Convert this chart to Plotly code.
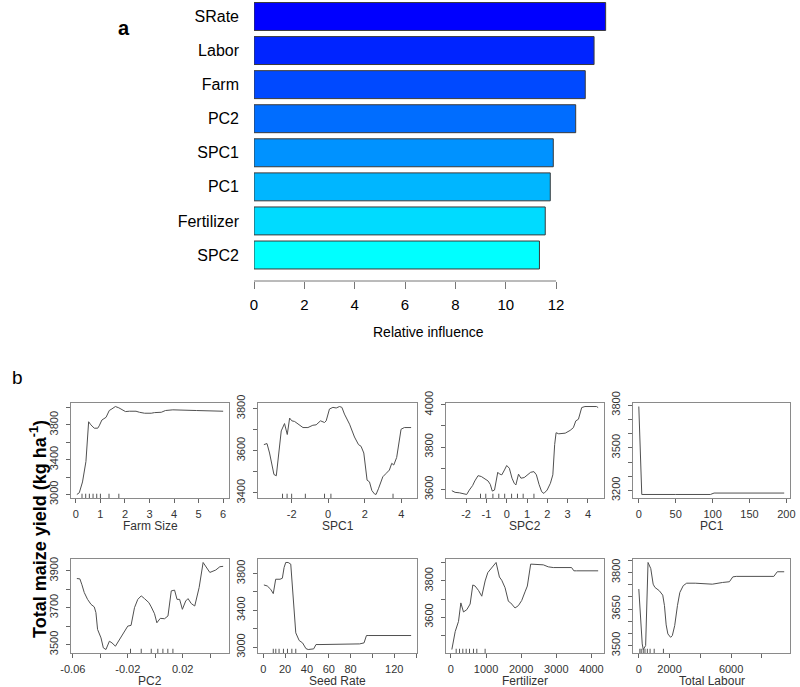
import plotly.graph_objects as go

FONT = "Liberation Sans, Arial, sans-serif"
W, H = 800, 687

# (a) relative influence of predictors
rel_vars = ["SRate", "Labor", "Farm", "PC2", "SPC1", "PC1", "Fertilizer", "SPC2"]
rel_vals = [13.97, 13.51, 13.16, 12.78, 11.89, 11.77, 11.57, 11.34]
rel_colors = ["#0000FF", "#0024FF", "#0049FF", "#006DFF", "#0092FF", "#00B6FF", "#00DBFF", "#00FFFF"]
rel_ticks = [0, 2, 4, 6, 8, 10, 12]

# (b) partial dependence curves
farm_x = [0.04, 0.14, 0.27, 0.41, 0.52, 0.61, 0.75, 0.89, 0.95, 1.06, 1.23, 1.36, 1.47, 1.61,
          1.75, 1.91, 2.02, 2.18, 2.45, 2.59, 2.80, 3.07, 3.20, 3.48, 3.65, 3.95, 4.50, 4.91, 6.00]
farm_y = [3000, 3020, 3144, 3378, 3835, 3800, 3761, 3761, 3788, 3855, 3886, 3964, 3983, 4010,
          3995, 3964, 3952, 3956, 3956, 3944, 3933, 3933, 3940, 3944, 3964, 3972, 3972, 3964, 3956]
farm_rug = [0.25, 0.4, 0.55, 0.7, 0.85, 1.0, 1.35, 1.75]

spc1_x = [-3.52, -3.35, -3.21, -3.06, -2.97, -2.84, -2.75, -2.57, -2.39, -2.24, -2.11, -1.99, -1.84,
          -1.66, -1.38, -1.11, -0.84, -0.66, -0.42, -0.20, -0.11, 0.07, 0.26, 0.44, 0.62, 0.75, 0.89,
          1.17, 1.44, 1.66, 1.80, 1.95, 2.02, 2.13, 2.26, 2.39, 2.53, 2.62, 2.75, 2.99, 3.17, 3.35,
          3.48, 3.59, 3.75, 3.99, 4.17, 4.54]
spc1_y = [3629, 3634, 3589, 3524, 3487, 3481, 3548, 3694, 3729, 3677, 3755, 3742, 3739,
          3726, 3710, 3710, 3721, 3723, 3742, 3734, 3742, 3798, 3806, 3803, 3810, 3806, 3774,
          3726, 3665, 3629, 3621, 3589, 3548, 3460, 3452, 3411, 3395, 3392, 3419, 3476, 3492, 3508,
          3540, 3532, 3568, 3702, 3710, 3710]
spc1_rug = [-2.5, -2.25, -2.0, -1.25, -0.2, 0.15, 3.55]

spc2_x = [-2.70, -2.54, -2.33, -2.14, -1.97, -1.84, -1.68, -1.57, -1.41, -1.25, -1.08, -0.92, -0.81,
          -0.71, -0.60, -0.44, -0.36, -0.24, -0.11, 0.0, 0.13, 0.26, 0.37, 0.45, 0.58, 0.65, 0.70,
          0.86, 1.02, 1.18, 1.34, 1.46, 1.59, 1.72, 1.83, 1.99, 2.15, 2.27, 2.36, 2.43, 2.56, 2.88,
          3.12, 3.28, 3.40, 3.53, 3.69, 3.85, 4.42, 4.50]
spc2_y = [3594, 3586, 3584, 3578, 3576, 3597, 3618, 3640, 3665, 3661, 3648, 3640, 3624,
          3592, 3597, 3681, 3673, 3669, 3692, 3713, 3700, 3653, 3629, 3621, 3672, 3661, 3653,
          3656, 3669, 3681, 3684, 3669, 3624, 3589, 3581, 3597, 3629, 3669, 3812, 3868, 3863, 3866,
          3879, 3892, 3924, 3932, 3987, 3992, 3992, 3987]
spc2_rug = [-1.29, -1.03, -0.68, -0.39, -0.1, 0.24, 0.53, 0.81, 1.34]

pc1_x = [0, 4, 50, 97, 102, 150, 197]
pc1_y = [3790, 3172, 3172, 3172, 3182, 3182, 3182]
pc1_rug = []

pc2_x = [-0.0571, -0.0549, -0.0534, -0.0517, -0.0493, -0.0468, -0.0444, -0.0432, -0.0420, -0.0395,
         -0.0378, -0.0359, -0.0334, -0.0315, -0.0290, -0.0266, -0.0237, -0.0200, -0.0176, -0.0151,
         -0.0127, -0.0102, -0.0078, -0.0046, -0.0029, -0.0005, 0.0012, 0.0037, 0.0068, 0.0093,
         0.0117, 0.0141, 0.0159, 0.0178, 0.0198, 0.0222, 0.0239, 0.0263, 0.0288, 0.0320, 0.0349,
         0.0398, 0.0441, 0.0471, 0.0495]
pc2_y = [3858, 3856, 3824, 3782, 3745, 3718, 3704, 3673, 3582, 3536,
         3482, 3473, 3518, 3509, 3491, 3522, 3555, 3600, 3604, 3700,
         3745, 3764, 3749, 3727, 3704, 3667, 3618, 3642, 3640, 3655,
         3791, 3795, 3745, 3745, 3691, 3736, 3749, 3722, 3709, 3809, 3945,
         3891, 3904, 3922, 3924]
pc2_rug = [-0.018, -0.0102, -0.0029, 0.0019, 0.0056, 0.0092, 0.0129]

seed_x = [0.6, 3.7, 6.8, 9.2, 11.4, 15.4, 17.5, 19.1, 20.6, 22.8, 25.2, 26.8, 28.3, 29.8, 32.9,
          36.0, 39.1, 41.2, 46.2, 48.3, 52.9, 65.2, 80.6, 88.3, 92.3, 94.5, 96.0, 111.4, 135.4]
seed_y = [3676, 3665, 3629, 3582, 3738, 3738, 3749, 3865, 3920, 3920, 3902, 3647, 3356, 3156, 3073,
          3047, 2985, 2975, 2982, 3029, 3029, 3029, 3029, 3036, 3047, 3127, 3127, 3127, 3127]
seed_rug = [9.2, 11.5, 14.5, 18.5, 22.2, 26.2, 29.8]

fert_x = [28, 123, 217, 284, 359, 454, 548, 624, 690, 785, 879, 974, 1050, 1163, 1286, 1381, 1447,
          1541, 1636, 1702, 1825, 1920, 2014, 2109, 2175, 2270, 2345, 2629, 2771, 2913, 3433, 3499,
          3574, 4189]
fert_y = [3422, 3521, 3577, 3679, 3629, 3642, 3673, 3778, 3772, 3748, 3716, 3800, 3846, 3874, 3902,
          3822, 3804, 3763, 3688, 3679, 3651, 3664, 3692, 3740, 3772, 3893, 3893, 3889, 3878, 3874,
          3874, 3856, 3856, 3856]
fert_rug = [151, 246, 340, 435, 530, 643, 738, 974]

labour_x = [0, 111, 222, 289, 444, 600, 778, 933, 1044, 1333, 1555, 1667, 1778, 1889, 2067, 2178,
            2333, 2511, 2667, 2889, 3111, 3667, 4778, 5444, 5889, 6111, 6333, 8778, 9000, 9450]
labour_y = [3732, 3609, 3507, 3484, 3500, 3841, 3816, 3752, 3739, 3725, 3707, 3664, 3585, 3548,
            3534, 3541, 3582, 3664, 3718, 3746, 3756, 3756, 3752, 3759, 3762, 3782, 3784, 3784,
            3803, 3803]
labour_rug = [67, 156, 289, 400, 556, 733, 1000, 1600]

panels = [
    dict(title="Farm Size", x=farm_x, y=farm_y, rug=farm_rug,
         xt=[0, 1, 2, 3, 4, 5, 6], xl=["0", "1", "2", "3", "4", "5", "6"],
         yt=[3000, 3200, 3400, 3600, 3800, 4000], yl=["3000", "", "3400", "", "3800", ""]),
    dict(title="SPC1", x=spc1_x, y=spc1_y, rug=spc1_rug,
         xt=[-2, 0, 2, 4], xl=["-2", "0", "2", "4"],
         yt=[3400, 3500, 3600, 3700, 3800], yl=["3400", "", "3600", "", "3800"]),
    dict(title="SPC2", x=spc2_x, y=spc2_y, rug=spc2_rug,
         xt=[-2, -1, 0, 1, 2, 3, 4], xl=["-2", "-1", "0", "1", "2", "3", "4"],
         yt=[3600, 3700, 3800, 3900, 4000], yl=["3600", "", "3800", "", "4000"]),
    dict(title="PC1", x=pc1_x, y=pc1_y, rug=pc1_rug,
         xt=[0, 50, 100, 150, 200], xl=["0", "50", "100", "150", "200"],
         yt=[3200, 3300, 3400, 3500, 3600, 3700, 3800], yl=["3200", "", "", "3500", "", "", "3800"]),
    dict(title="PC2", x=pc2_x, y=pc2_y, rug=pc2_rug,
         xt=[-0.06, -0.04, -0.02, 0, 0.02, 0.04], xl=["-0.06", "", "-0.02", "", "0.02", ""],
         yt=[3500, 3600, 3700, 3800, 3900], yl=["3500", "", "3700", "", "3900"]),
    dict(title="Seed Rate", x=seed_x, y=seed_y, rug=seed_rug,
         xt=[0, 20, 40, 60, 80, 100, 120, 140], xl=["0", "20", "40", "60", "80", "", "120", ""],
         yt=[3000, 3200, 3400, 3600, 3800], yl=["3000", "", "3400", "", "3800"]),
    dict(title="Fertilizer", x=fert_x, y=fert_y, rug=fert_rug,
         xt=[0, 1000, 2000, 3000, 4000], xl=["0", "1000", "2000", "3000", "4000"],
         yt=[3400, 3500, 3600, 3700, 3800, 3900], yl=["3400", "", "3600", "", "3800", ""]),
    dict(title="Total Labour", x=labour_x, y=labour_y, rug=labour_rug,
         xt=[0, 2000, 4000, 6000, 8000], xl=["0", "2000", "", "6000", ""],
         yt=[3500, 3550, 3600, 3650, 3700, 3750, 3800, 3850],
         yl=["3500", "", "", "3650", "", "", "3800", ""]),
]

# panel boxes in pixels
COLS = [(71, 229), (258, 417), (446, 604), (633, 790)]
ROWS = [(403, 498), (559, 653)]


def px_x(p):
    return p / W


def px_y(p):
    return 1 - p / H


def padded(vals):
    lo, hi = min(vals), max(vals)
    ext = 0.04 * (hi - lo)
    return [lo - ext, hi + ext]


def label(text, x, y, size, color="black", angle=0):
    return dict(text=text, x=px_x(x), y=px_y(y), xref="paper", yref="paper", showarrow=False,
                xanchor="center", yanchor="middle", textangle=angle,
                font=dict(size=size, color=color, family=FONT))


fig = go.Figure()
fig.add_trace(go.Bar(
    x=rel_vals, y=rel_vars, orientation="h", width=0.82,
    marker=dict(color=rel_colors, line=dict(color="#3a3a3a", width=1)),
    xaxis="x", yaxis="y",
))

shapes = [dict(type="line", xref="x", yref="y domain", x0=0, x1=12, y0=0, y1=0,
               line=dict(color="#777", width=1))]
annotations = [
    label("<b>a</b>", 124, 28, 20),
    label("Relative influence", 428, 332, 14),
    label("b", 17, 377, 19),
    label("<b>Total maize yield (kg ha<sup>-1</sup>)</b>", 38, 529, 18, angle=-90),
]

layout = dict(
    width=W, height=H, margin=dict(l=0, r=0, t=0, b=0, autoexpand=False),
    paper_bgcolor="white", plot_bgcolor="white", showlegend=False,
    font=dict(family=FONT, color="black"),
    xaxis=dict(domain=[px_x(254), px_x(620)], range=[0, 14.54], anchor="y", automargin=False,
               tickvals=rel_ticks, ticks="outside", ticklen=7, tickcolor="#777",
               showline=False, showgrid=False, zeroline=False,
               tickfont=dict(size=15, color="black"), ticklabelstandoff=3),
    yaxis=dict(domain=[px_y(281), 1], anchor="x", type="category", automargin=False,
               categoryorder="array", categoryarray=list(reversed(rel_vars)),
               range=[-0.763, 7.484], showline=False, showgrid=False, zeroline=False,
               ticks="", tickfont=dict(size=16, color="black"), ticklabelstandoff=14),
)

for i, p in enumerate(panels):
    n = i + 2
    c0, c1 = COLS[i % 4]
    r0, r1 = ROWS[i // 4]
    fig.add_trace(go.Scatter(x=p["x"], y=p["y"], mode="lines",
                             line=dict(color="#505050", width=1),
                             xaxis=f"x{n}", yaxis=f"y{n}"))
    common = dict(showline=True, mirror=True, linecolor="#8a8a8a", linewidth=1, automargin=False,
                  ticks="outside", ticklen=4, tickcolor="#666", showgrid=False, zeroline=False,
                  tickfont=dict(size=11, color="#333"))
    layout[f"xaxis{n}"] = dict(domain=[px_x(c0), px_x(c1)], anchor=f"y{n}",
                               range=padded(p["x"]), tickmode="array",
                               tickvals=p["xt"], ticktext=p["xl"], ticklabelstandoff=2, **common)
    layout[f"yaxis{n}"] = dict(domain=[px_y(r1), px_y(r0)], anchor=f"x{n}",
                               range=padded(p["y"]), tickmode="array",
                               tickvals=p["yt"], ticktext=p["yl"], tickangle=-90,
                               ticklabelstandoff=4, **common)
    for v in p["rug"]:
        shapes.append(dict(type="line", xref=f"x{n}", yref=f"y{n} domain", x0=v, x1=v,
                           y0=0, y1=0.045, line=dict(color="#555", width=1)))
    annotations.append(label(p["title"], (c0 + c1) / 2, r1 + 28, 12, color="#333"))

layout["shapes"] = shapes
layout["annotations"] = annotations
fig.update_layout(**layout)
# drop the page's default body margin so the figure sits at the window's corner
fig.write_html("out.html", config={"displayModeBar": False},
               post_script="document.body.style.margin='0';")
